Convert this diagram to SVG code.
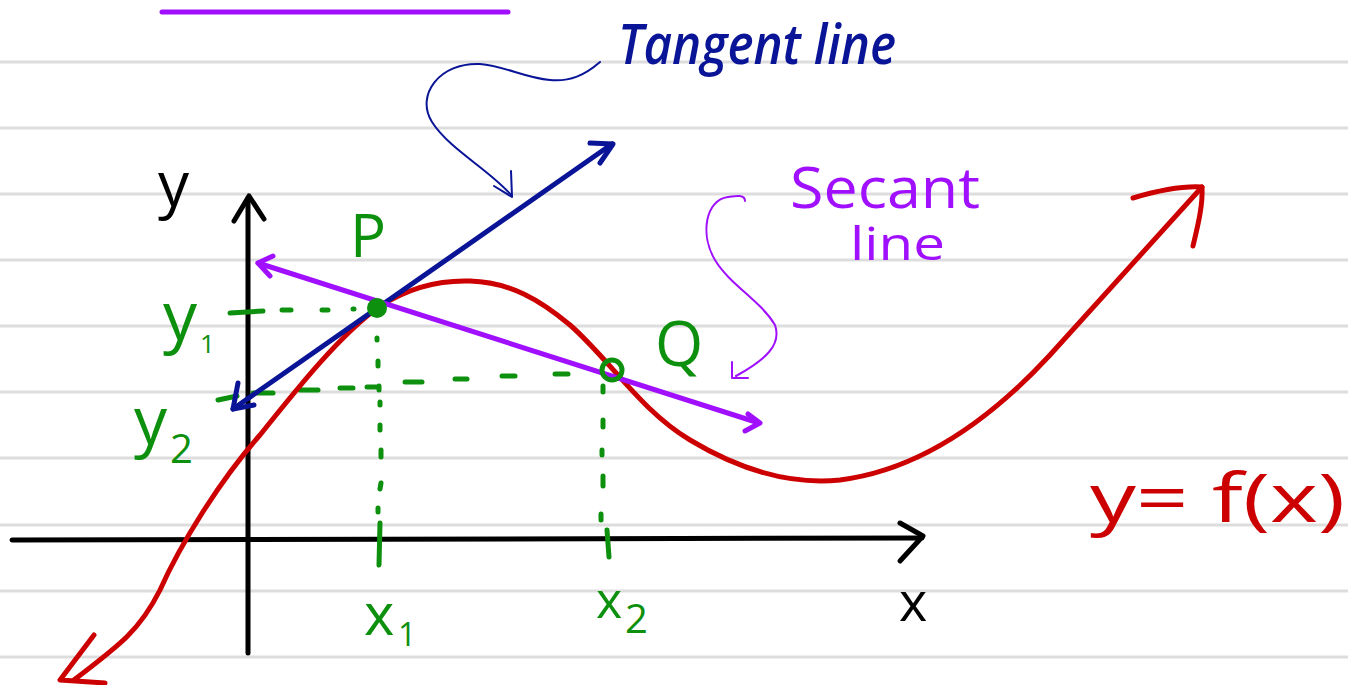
<svg xmlns="http://www.w3.org/2000/svg" width="1348" height="685" viewBox="0 0 1348 685">
<style>
.rule{stroke:#dddddd;stroke-width:3}
.s{fill:none;stroke-linecap:round;stroke-linejoin:round}
.blk{stroke:#000;stroke-width:5}
.red{stroke:#cc0000;stroke-width:5}
.nav{stroke:#0a1496;stroke-width:5}
.pur{stroke:#a010ff;stroke-width:5}
.grn{stroke:#0d900d;stroke-width:5}
.t{font-family:"Open Sans","Liberation Sans",sans-serif;font-weight:400}
.b{font-weight:600}
.tg{fill:#0d900d}
</style>
<rect width="1348" height="685" fill="#ffffff"/>
<g id="ruled-paper">
<line class="rule" x1="0" y1="62" x2="1348" y2="62"/>
<line class="rule" x1="0" y1="128" x2="1348" y2="128"/>
<line class="rule" x1="0" y1="194" x2="1348" y2="194"/>
<line class="rule" x1="0" y1="260" x2="1348" y2="260"/>
<line class="rule" x1="0" y1="326" x2="1348" y2="326"/>
<line class="rule" x1="0" y1="392" x2="1348" y2="392"/>
<line class="rule" x1="0" y1="458" x2="1348" y2="458"/>
<line class="rule" x1="0" y1="525" x2="1348" y2="525"/>
<line class="rule" x1="0" y1="591" x2="1348" y2="591"/>
<line class="rule" x1="0" y1="657" x2="1348" y2="657"/>
</g>
<line class="s pur" x1="162" y1="12" x2="508" y2="12" stroke-width="6"/>
<g id="axes">
<path class="s blk" d="M248 653 L248 198"/>
<path class="s blk" d="M234 221 L249 196 L264 219"/>
<path class="s blk" d="M12 540 L922 538"/>
<path class="s blk" d="M900 523 L923 536 L900 561"/>
<text class="t" x="158" y="206" font-size="62" fill="#000">y</text>
<text class="t" x="899" y="621" font-size="54" fill="#000">x</text>
</g>
<g id="guides">
<g class="s grn">
<path d="M230 313 L263 311"/>
<path d="M282 310 L291 310"/>
<path d="M322 310 L328 310"/>
<path d="M353 309 L354 309"/>
<path d="M218 400 L237 396"/>
<path d="M253 393 L273 393"/>
<path d="M300 390 L318 390"/>
<path d="M340 388 L353 388"/>
<path d="M367 387 L377 387"/>
<path d="M405 382 L422 382"/>
<path d="M455 379 L467 379"/>
<path d="M502 376 L515 376"/>
<path d="M555 374 L568 374"/>
<path d="M377 338 L377 340"/>
<path d="M378 361 L378 366"/>
<path d="M379 386 L379 390"/>
<path d="M380 402 L380 405"/>
<path d="M380 425 L380 430"/>
<path d="M381 450 L381 457"/>
<path d="M381 483 L380 489"/>
<path d="M378 508 L378 512"/>
<path d="M380 523 L379 565"/>
<path d="M603 386 L603 392"/>
<path d="M603 420 L603 427"/>
<path d="M602 450 L602 455"/>
<path d="M603 476 L603 486"/>
<path d="M601 514 L601 520"/>
<path d="M607 530 L609 557"/>
</g>
</g>
<g id="curve-f">
<path class="s red" d="M74 680 C120 645 140 630 160 590 C180 545 220 480 260 435 C300 385 340 335 380 306 C410 287 440 280 470 281 C510 282 540 300 570 325 C610 360 640 410 690 440 C740 470 790 485 840 480 C920 470 990 420 1050 355 C1100 300 1150 245 1202 187"/>
<path class="s red" d="M94 635 L60 680 L105 683"/>
<path class="s red" d="M1133 198 C1160 190 1185 186 1202 187 C1203 205 1198 225 1193 246"/>
</g>
<g id="connectors">
<g id="tangent-line">
<path class="s nav" d="M233 409 L612 144"/>
<path class="s nav" d="M238 383 L233 409 L254 405"/>
<path class="s nav" d="M590 143 L613 144 L600 163"/>
</g>
<g id="secant-line">
<path class="s pur" d="M258 263 L759 423"/>
<path class="s pur" d="M273 256 L258 263 L270 276"/>
<path class="s pur" d="M748 414 L760 423 L745 431"/>
</g>
<g id="tangent-callout">
<path class="s" stroke="#0a1496" stroke-width="2" d="M600 62 C585 75 570 82 550 80 C525 78 505 66 480 64 C440 62 415 95 432 122 C450 150 490 170 512 196"/>
<path class="s" stroke="#0a1496" stroke-width="2" d="M511 171 L512 197 L494 186"/>
</g>
<g id="secant-callout">
<path class="s" stroke="#a010ff" stroke-width="2" d="M745 201 C745 194 735 196 728 197 C705 200 700 235 715 260 C730 285 760 300 775 325 C782 345 765 360 736 376"/>
<path class="s" stroke="#a010ff" stroke-width="2" d="M732 362 L732 378 L748 378"/>
</g>
</g>
<g id="point-P">
<circle cx="377" cy="308" r="10" fill="#0d900d"/>
<text class="t tg" x="350" y="257" font-size="60">P</text>
</g>
<g id="point-Q">
<circle cx="612" cy="370" r="10" fill="none" stroke="#0d900d" stroke-width="5"/>
<text class="t tg" x="655" y="366" font-size="62">Q</text>
</g>
<g id="label-y1">
<text class="t tg" x="163" y="340" font-size="68">y</text>
<text class="t tg" x="200" y="353" font-size="26">1</text>
</g>
<g id="label-y2">
<text class="t tg" x="134" y="444" font-size="66">y</text>
<text class="t tg" x="170" y="463" font-size="40">2</text>
</g>
<g id="label-x1">
<text class="t tg" x="364" y="635" font-size="58">x</text>
<text class="t tg" x="398" y="646" font-size="32">1</text>
</g>
<g id="label-x2">
<text class="t tg" x="596" y="618" font-size="50">x</text>
<text class="t tg" x="625" y="633" font-size="40">2</text>
</g>
<g id="label-tangent">
<text class="t b" x="618" y="64" font-size="56" font-style="italic" fill="#0a1496" textLength="278" lengthAdjust="spacingAndGlyphs">Tangent line</text>
</g>
<g id="label-secant">
<text class="t" x="790" y="208" font-size="56" fill="#a010ff" textLength="190" lengthAdjust="spacingAndGlyphs">Secant</text>
<text class="t" x="850" y="260" font-size="46" fill="#a010ff" textLength="95" lengthAdjust="spacingAndGlyphs">line</text>
</g>
<g id="label-function">
<text class="t" x="1090" y="522" font-size="68" fill="#cc0000" textLength="255" lengthAdjust="spacingAndGlyphs">y= f(x)</text>
</g>
</svg>
